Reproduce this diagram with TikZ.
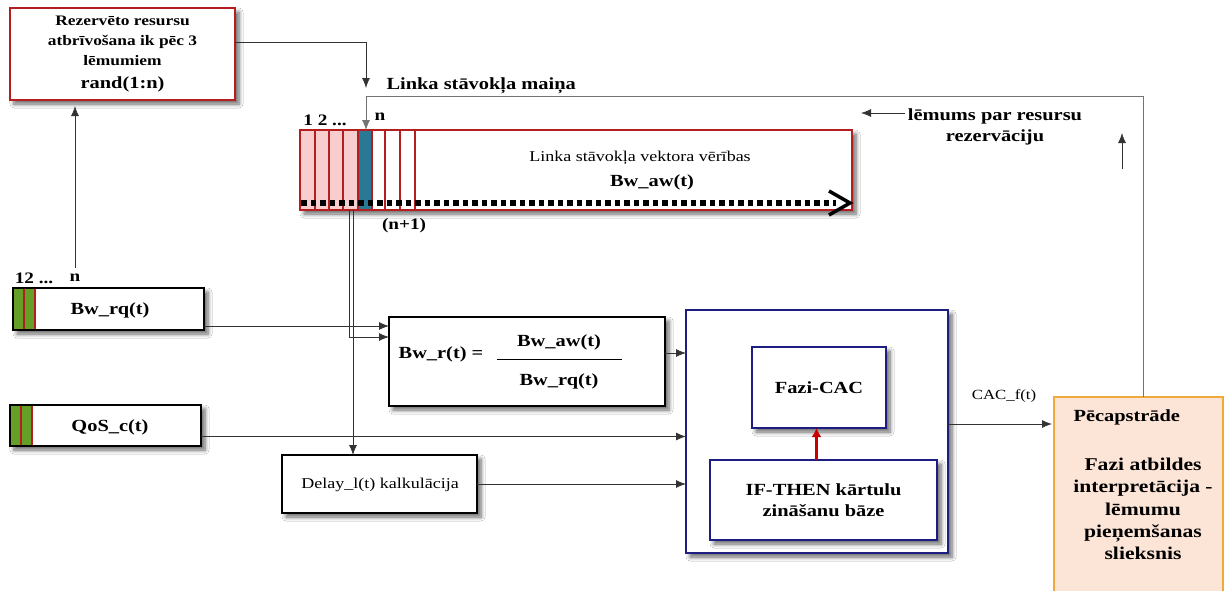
\documentclass[tikz,border=0pt]{standalone}
\usepackage{fontspec}
\setmainfont[FakeStretch=1.2]{Liberation Serif}
\usetikzlibrary{arrows.meta,shadows,shadows.blur,calc}
\definecolor{boxred}{RGB}{180,30,30}
\definecolor{navy}{RGB}{30,30,130}
\definecolor{pinkcell}{RGB}{248,205,205}
\definecolor{tealcell}{RGB}{40,120,150}
\definecolor{greencell}{RGB}{100,160,40}
\definecolor{orangeb}{RGB}{240,170,60}
\definecolor{peach}{RGB}{252,228,214}
\definecolor{redarrow}{RGB}{200,0,0}
\begin{document}
\begin{tikzpicture}[x=1pt,y=-1pt,
  shad/.style={blur shadow={shadow blur steps=6, shadow blur radius=4pt, shadow xshift=4pt, shadow yshift=-4pt, shadow opacity=60}},
  box/.style={rectangle, anchor=north west, inner sep=0pt, outer sep=0pt, fill=white, line width=1.6pt, shad},
  redbox/.style={box, draw=boxred},
  blkbox/.style={box, draw=black},
  bluebox/.style={box, draw=navy},
  conn/.style={draw=black!80, line width=0.8pt, -{Latex[length=10pt,width=8pt]}},
  bt/.style={font=\bfseries\fontsize{17}{21}\selectfont},
  rt/.style={font=\fontsize{15}{19}\selectfont},
  lab/.style={font=\bfseries\fontsize{16}{19}\selectfont},
  cell/.style={draw=boxred, line width=1.2pt},
]
\useasboundingbox (0,0) rectangle (1227,590);
\fill[white] (0,0) rectangle (1227,590);

% top-left box
\node[redbox, minimum width=225pt, minimum height=92pt, align=center,
      font=\bfseries\fontsize{14.5}{20}\selectfont] (rez) at (10,8)
  {Rezervēto resursu\\ atbrīvošana ik pēc 3\\ lēmumiem\\[3pt] {\fontsize{17}{20}\selectfont rand(1:n)}};

% link state vector
\node[redbox, minimum width=552pt, minimum height=80pt] (vec) at (300,130) {};
\foreach \a/\b in {300/315,315/329,329/343,343/358}
  \filldraw[cell, fill=pinkcell] (\a,130) rectangle (\b,210);
\filldraw[cell, fill=tealcell] (358,130) rectangle (372,210);
\foreach \a/\b in {372/385,385/400,400/415}
  \draw[cell] (\a,130) rectangle (\b,210);
\draw[boxred, line width=1.6pt] (vec.north west) rectangle (vec.south east);
\node[rt] (vtxt) at (640,158) {Linka stāvokļa vektora vērības};
\node[bt] (vbw) at (652,182) {Bw\_aw(t)};
\draw[line width=5.5pt, dash pattern=on 5.5pt off 4pt] (301,203) -- (836,203);
\draw[line width=3.5pt, line join=miter] (829,191) -- (850,203) -- (829,215);
\node[lab] (l12) at (325,120) {1 2 ...};
\node[lab] (ln) at (380,117) {n};
\node[lab] (ln1) at (404,226) {(n+1)};

% Linka stavokla maina
\coordinate (m1) at (366,88);
\draw[conn] ([yshift=12pt]rez.east) -| (m1);
\node[bt, anchor=west] (maina) at (383,86) {Linka stāvokļa maiņa};

% decision text at right
\node[bt, align=center] (lem) at (995,127) {lēmums par resursu\\ rezervāciju};
\coordinate (la1) at (905,113);
\coordinate (la2) at (861,113);
\draw[conn] (la1) -- (la2);
\coordinate (ua1) at (1122,169);
\coordinate (ua2) at (1122,133);
\draw[conn] (ua1) -- (ua2);

% Bw_rq box
\node[blkbox, minimum width=191pt, minimum height=42pt] (bwrq) at (13,288) {};
\filldraw[cell, fill=greencell] (13,288) rectangle (24,330);
\filldraw[cell, fill=greencell] (24,288) rectangle (35,330);
\draw[black, line width=1.6pt] (bwrq.north west) rectangle (bwrq.south east);
\node[bt] (bwrqt) at (110,310) {Bw\_rq(t)};
\node[lab] (q12) at (34,278) {12 ...};
\node[lab] (qn) at (75,278) {n};
\coordinate (nq) at (75,268);
\draw[conn, shorten >=6pt] (nq) -- (nq |- rez.south);

% QoS box
\node[blkbox, minimum width=191pt, minimum height=41pt] (qos) at (10,405) {};
\filldraw[cell, fill=greencell] (10,405) rectangle (21,446);
\filldraw[cell, fill=greencell] (21,405) rectangle (32,446);
\draw[black, line width=1.6pt] (qos.north west) rectangle (qos.south east);
\node[bt] (qost) at (110,427) {QoS\_c(t)};

% Bw_r box
\node[blkbox, minimum width=276pt, minimum height=89pt] (bwr) at (389,317) {};
\node[bt] (bwrt) at (441,354) {Bw\_r(t) =};
\node[bt] (frn) at (559,342) {Bw\_aw(t)};
\node[bt] (frd) at (559,381) {Bw\_rq(t)};
\draw[line width=1pt] (497,359) -- (622,359);

% Delay box
\node[blkbox, minimum width=195pt, minimum height=58pt] (delay) at (282,455) {};
\node[rt] (delt) at (380,485) {Delay\_l(t) kalkulācija};

% big blue box
\node[bluebox, minimum width=262pt, minimum height=243pt] (big) at (686,310) {};
\node[bluebox, minimum width=134pt, minimum height=81pt, bt] (fazi) at (752,347) {Fazi-CAC};
\node[bluebox, minimum width=227pt, minimum height=80pt, bt, align=center] (ift) at (710,460) {IF-THEN kārtulu\\ zināšanu bāze};
\draw[redarrow, line width=2.5pt, -{Latex[length=9pt,width=10pt]}] ([xshift=-7pt]ift.north) -- ([xshift=-7pt]ift.north |- fazi.south);

% post-processing box
\fill[peach] (1054,397) rectangle (1223,592);
\draw[orangeb, line width=1.6pt] (1054,592) -- (1054,397) -- (1223,397) -- (1223,592);
\coordinate (pec) at (1143,397);
\node[bt, anchor=west] (pect) at (1070,417) {Pēcapstrāde};
\node[font=\bfseries\fontsize{18}{22.3}\selectfont, align=center] (pecb) at (1143,509)
  {Fazi atbildes\\ interpretācija -\\ lēmumu\\ pieņemšanas\\ slieksnis};

% connectors
\coordinate (v1) at (349,210);
\coordinate (v2) at (353,210);
\draw[conn] (v1) |- ([yshift=24.5pt]bwr.west);
\draw[conn] (v2) -- (v2 |- delay.north);
\draw[conn] ([yshift=-17pt]bwrq.east) -- ([yshift=-17pt]bwrq.east -| bwr.west);
\draw[conn] ([yshift=8.5pt]bwr.east) -- ([yshift=8.5pt]bwr.east -| big.west);
\draw[conn] ([yshift=-11pt]qos.east) -- ([yshift=-11pt]qos.east -| big.west);
\draw[conn] (delay.east) -- (delay.east -| big.west);
\draw[conn] ([yshift=7.5pt]big.east) -- ([yshift=7.5pt]big.east -| 1052,0);
\node[rt, font=\fontsize{14}{17}\selectfont] (cacl) at (1004,396) {CAC\_f(t)};
\draw[conn, draw=black!55] (pec) |- (m1 |- 0,96) -- (m1 |- vec.north);
\end{tikzpicture}
\end{document}
